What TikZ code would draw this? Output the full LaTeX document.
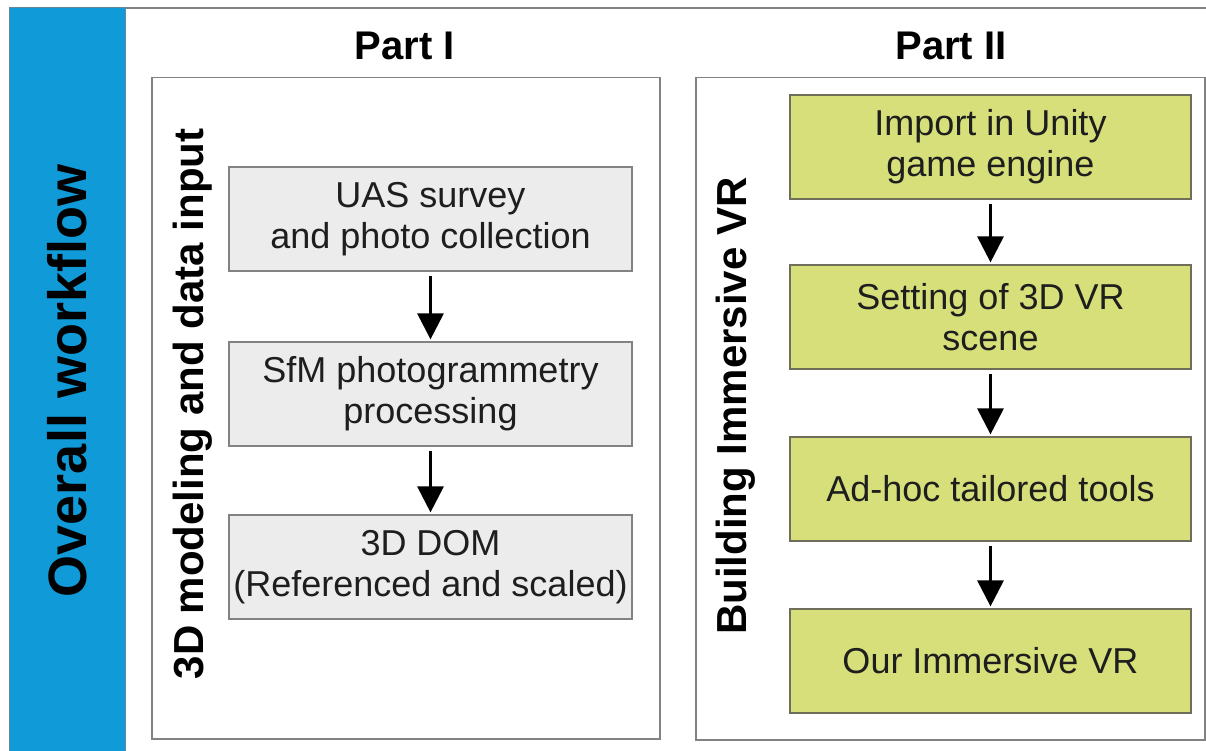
\documentclass[tikz,border=0pt]{standalone}
\usepackage{fontspec}
\setmainfont{Liberation Sans}
\usetikzlibrary{arrows.meta}
\definecolor{barblue}{RGB}{16,155,216}
\definecolor{greyfill}{RGB}{236,236,236}
\definecolor{greyedge}{RGB}{130,130,130}
\definecolor{greenfill}{RGB}{214,223,122}
\definecolor{greenedge}{RGB}{110,110,90}
\definecolor{boxtext}{RGB}{30,30,30}
\tikzset{
  panel/.style={draw=greyedge, line width=1.5pt, fill=white, inner sep=0pt, anchor=north west},
  greybox/.style={draw=greyedge, line width=1.2pt, fill=greyfill, minimum width=403pt, minimum height=104pt,
    align=center, text=boxtext, font=\fontsize{36}{41}\selectfont, inner sep=0pt},
  greenbox/.style={draw=greenedge, line width=1.2pt, fill=greenfill, minimum width=401pt, minimum height=104pt,
    align=center, text=boxtext, font=\fontsize{36}{41}\selectfont, inner sep=0pt},
  flow/.style={line width=3pt, -{Triangle[width=26pt,length=26pt]}, shorten <=4pt, shorten >=2pt},
  title/.style={font=\bfseries\fontsize{40}{44}\selectfont, anchor=base},
  sidelabel/.style={font=\bfseries\fontsize{42}{46}\selectfont, rotate=90, anchor=base, inner sep=0pt},
}
\begin{document}
\begin{tikzpicture}[x=1pt,y=-1pt]
\useasboundingbox (0,0) rectangle (1206,751);
\fill[white] (0,0) rectangle (1206,751);
% outer frame
\draw[greyedge, line width=1.5pt] (9,8) -- (1206,8);
\fill[barblue] (9,8) rectangle (125,751);
\draw[greyedge!70!barblue, line width=1pt] (9,751) -- (9,8) -- (125,8) -- (125,751);
\node[font=\bfseries\fontsize{54}{58}\selectfont, rotate=90, anchor=base, inner sep=0pt] (overall) at (86,381) {Overall workflow};
% titles
\node[title] (p1) at (405,60) {Part I};
\node[title] (p2) at (951,60) {Part II};
% panels
\node[panel, minimum width=508pt, minimum height=661pt] (panelA) at (151,77) {};
\node[panel, minimum width=509pt, minimum height=662pt] (panelB) at (695,77) {};
% side labels
\node[sidelabel] (labA) at (203,404) {3D modeling and data input};
\node[sidelabel] (labB) at (746,406) {Building Immersive VR};
% Part I boxes
\node[greybox] (a1) at (430.5,219) {UAS survey\\and photo collection};
\node[greybox] (a2) at (430.5,394) {SfM photogrammetry\\processing};
\node[greybox] (a3) at (430.5,567) {3D DOM\\(Referenced and scaled)};
% Part II boxes
\node[greenbox] (b1) at (990.5,147) {Import in Unity\\game engine};
\node[greenbox] (b2) at (990.5,317) {Setting of 3D VR\\scene};
\node[greenbox] (b3) at (990.5,489) {Ad-hoc tailored tools};
\node[greenbox] (b4) at (990.5,661) {Our Immersive VR};
% arrows
\draw[flow] (a1) -- (a2);
\draw[flow] (a2) -- (a3);
\draw[flow] (b1) -- (b2);
\draw[flow] (b2) -- (b3);
\draw[flow] (b3) -- (b4);
\end{tikzpicture}
\end{document}
